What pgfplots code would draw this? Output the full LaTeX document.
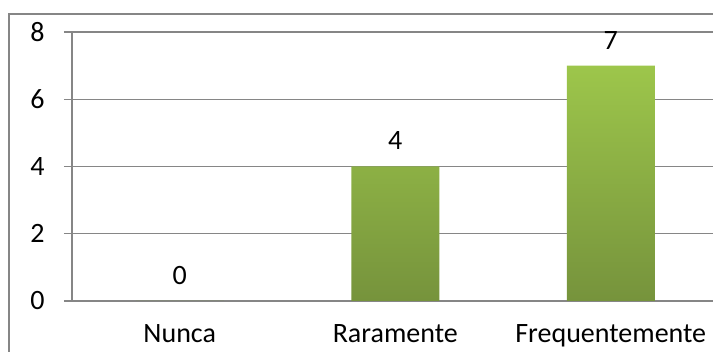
\documentclass[border=0pt]{standalone}
\usepackage{pgfplots}
\pgfplotsset{compat=1.18}
\usepackage{fontspec}
\setmainfont{Carlito}
\definecolor{gridgray}{HTML}{868686}
\definecolor{bartop}{HTML}{9DC64B}
\definecolor{barbot}{HTML}{76933C}
\begin{document}
\begin{tikzpicture}[x=1pt,y=1pt]
\useasboundingbox (0,0) rectangle (713,352);
\begin{scope}
\clip (0,0) rectangle (713,352);
\draw[gridgray, line width=1.2pt] (9,-20) rectangle (740,338);
\begin{axis}[
  at={(72pt,51pt)}, anchor=south west,
  scale only axis,
  width=646.5pt, height=269pt,
  xmin=-0.5, xmax=2.5,
  ymin=0, ymax=8,
  ytick={0,2,4,6,8},
  xtick={0,1,2},
  xticklabels={Nunca,Raramente,Frequentemente},
  extra x ticks={-0.5,0.5,1.5,2.5},
  extra x tick labels={},
  extra x tick style={major tick length=9pt, tick style={gridgray, line width=1.2pt}},
  x tick style={draw=none},
  axis lines*=left,
  axis line style={gridgray, line width=1.2pt},
  y tick style={gridgray, line width=1.2pt},
  tick align=outside,
  major tick length=8pt,
  ymajorgrids,
  grid style={gridgray, line width=1.2pt},
  tick label style={font=\fontsize{28}{33}\selectfont},
  /pgf/number format/assume math mode=true,
  yticklabel style={xshift=-16pt},
  xticklabel style={yshift=-12pt},
  clip=false,
]
\addplot[ybar, bar width=88pt, draw=none, top color=bartop, bottom color=barbot,
  nodes near coords,
  every node near coord/.append style={font=\fontsize{28}{33}\selectfont, text=black, yshift=13pt}]
  coordinates {(0,0) (1,4) (2,7)};
\end{axis}
\end{scope}
\end{tikzpicture}
\end{document}
